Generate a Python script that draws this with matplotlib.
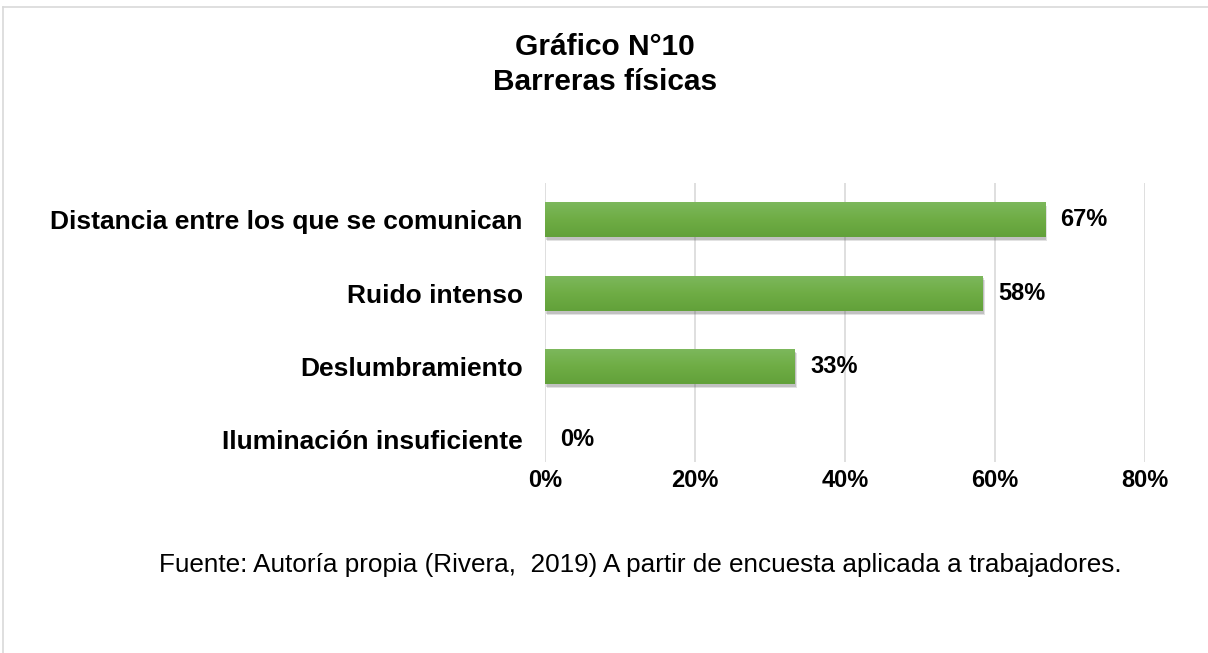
import numpy as np
import matplotlib.pyplot as plt
from matplotlib import patheffects
from matplotlib.lines import Line2D
from matplotlib.colors import LinearSegmentedColormap

plt.rcParams['font.family'] = ['Liberation Sans', 'DejaVu Sans']

categorias = ['Iluminación insuficiente', 'Deslumbramiento', 'Ruido intenso',
              'Distancia entre los que se comunican']
valores = [0.0, 33.33, 58.33, 66.67]
etiquetas = ['0%', '33%', '58%', '67%']
ticks = [0, 20, 40, 60, 80]

fig = plt.figure(figsize=(12.08, 6.53), dpi=100)
ax = fig.add_axes([545 / 1208, 1 - 462 / 653, 600 / 1208, 279 / 653])

# marco gris del grafico
fig.add_artist(Line2D([3 / 1208, 3 / 1208], [0, 1 - 7 / 653], color='#D9D9D9', lw=1.2,
                      transform=fig.transFigure))
fig.add_artist(Line2D([3 / 1208, 1], [1 - 7 / 653, 1 - 7 / 653], color='#D9D9D9', lw=1.2,
                      transform=fig.transFigure))

verde = LinearSegmentedColormap.from_list('verde', ['#62A13A', '#6FAD45', '#7DB85D'])
grad = np.linspace(0, 1, 64).reshape(-1, 1)

ypos = range(len(categorias))
bars = ax.barh(ypos, valores, height=0.48, color='#6EAC44', zorder=3)
for b in bars:
    b.set_path_effects([patheffects.SimplePatchShadow(offset=(1.5, -3), shadow_rgbFace='#404040', alpha=0.15),
                        patheffects.SimplePatchShadow(offset=(1, -2), shadow_rgbFace='#404040', alpha=0.2),
                        patheffects.Normal()])
    if b.get_width() > 0:
        x0, y0 = b.get_x(), b.get_y()
        im = ax.imshow(grad, cmap=verde, aspect='auto', origin='lower', zorder=4,
                       extent=[x0, x0 + b.get_width(), y0, y0 + b.get_height()])
        im.set_clip_path(b)

for y, v, t in zip(ypos, valores, etiquetas):
    ax.annotate(t, (v, y), xytext=(11, 0), textcoords='offset points',
                va='center', ha='left', fontsize=17, fontweight='bold')

ax.set_xlim(0, 80)
ax.set_ylim(-0.3, 3.5)
ax.set_xticks(ticks)
ax.set_xticklabels([f'{t}%' for t in ticks], fontsize=17, fontweight='bold')
ax.set_yticks(list(ypos))
ax.set_yticklabels(categorias, fontsize=19, fontweight='bold')
ax.tick_params(axis='both', length=0)
ax.tick_params(axis='x', pad=5)
ax.tick_params(axis='y', pad=16)
ax.grid(axis='x', color='#D9D9D9', lw=1.2, zorder=0)
for s in ax.spines.values():
    s.set_visible(False)

fig.text(605 / 1208, 1 - 47 / 653, 'Gráfico N°10', ha='center', va='center',
         fontsize=21.5, fontweight='bold')
fig.text(605 / 1208, 1 - 82 / 653, 'Barreras físicas', ha='center', va='center',
         fontsize=21.5, fontweight='bold')
fig.text(640 / 1208, 1 - 565 / 653,
         'Fuente: Autoría propia (Rivera,  2019) A partir de encuesta aplicada a trabajadores.',
         ha='center', va='center', fontsize=18.8)

fig.savefig('out.png', dpi=100)
